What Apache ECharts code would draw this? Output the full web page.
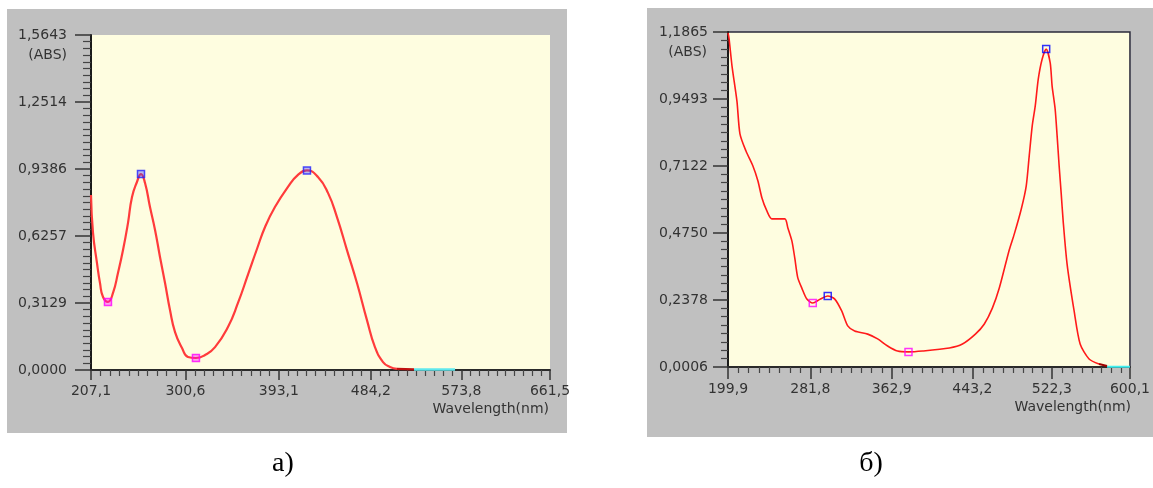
<!DOCTYPE html>
<html>
<head>
<meta charset="utf-8">
<script src="https://cdn.jsdelivr.net/npm/echarts/dist/echarts.min.js"></script>
<style>
html,body{margin:0;padding:0;background:#ffffff;}
#chart{width:1153px;height:488px;}
</style>
</head>
<body>
<div id="chart"></div>
<script>
// ---------- Panel а) ----------
const aXTicks = [207.1, 300.6, 393.1, 484.2, 573.8, 661.5];
const aYTicks = [0, 0.31286, 0.62572, 0.93858, 1.25144, 1.5643];
const aWavelength = [207.1,209.1,213.0,216.0,219.0,223.9,228.9,233.8,238.8,243.7,247.7,252.6,256.6,260.6,265.5,270.5,275.4,280.4,285.3,290.3,297.2,303.1,311.0,320.0,329.9,342.7,352.6,362.5,371.4,379.4,389.2,402.1,412.0,420.9,431.8,441.7,450.6,460.5,470.4,480.3,488.2,496.2,503.1,510.0];
const aAbsorbance = [0.817,0.640,0.500,0.406,0.341,0.318,0.360,0.453,0.560,0.686,0.808,0.878,0.915,0.873,0.761,0.654,0.528,0.406,0.280,0.177,0.103,0.061,0.056,0.070,0.107,0.201,0.313,0.445,0.565,0.668,0.761,0.855,0.911,0.932,0.901,0.827,0.714,0.560,0.406,0.233,0.107,0.037,0.014,0.005];
const aTailWl = [510.0, 526.9];
const aTailAbs = [0.005, 0.003];
const aBaseWl = [526.9, 567.5];
const aBaseAbs = [0.002, 0.002];
const aMinima = [[223.9, 0.318], [311.0, 0.056]];
const aMaxima = [[256.6, 0.915], [420.9, 0.932]];

// ---------- Panel б) ----------
const bXTicks = [199.9, 281.8, 362.9, 443.2, 522.3, 600.1];
const bYTicks = [0.0006, 0.2378, 0.4750, 0.7122, 0.9493, 1.1865];
const bWavelength = [199.9,200.9,203.9,208.8,211.8,217.8,224.7,229.7,233.7,238.6,243.6,256.5,259.5,263.5,266.4,269.4,273.4,278.4,284.3,291.3,299.2,306.2,313.1,319.1,326.0,339.0,348.9,358.8,368.7,379.6,393.5,420.3,433.3,446.2,455.1,463.1,470.0,479.9,484.9,491.9,496.8,499.8,502.8,505.8,508.8,512.7,516.7,520.7,522.6,525.6,527.6,529.6,531.6,533.6,537.5,544.5,550.5,559.4,569.3];
const bAbsorbance = [1.183,1.165,1.066,0.942,0.826,0.765,0.712,0.659,0.599,0.553,0.525,0.525,0.493,0.447,0.386,0.316,0.280,0.241,0.227,0.240,0.252,0.241,0.199,0.146,0.128,0.117,0.100,0.075,0.057,0.054,0.057,0.068,0.082,0.117,0.153,0.209,0.280,0.415,0.471,0.560,0.641,0.748,0.854,0.925,1.020,1.091,1.126,1.077,0.995,0.914,0.818,0.712,0.617,0.517,0.365,0.199,0.082,0.029,0.011];
const bTailWl = [569.3, 577.3];
const bTailAbs = [0.011, 0.004];
const bBaseWl = [577.3, 600.1];
const bBaseAbs = [0.0015, 0.0015];
const bMinima = [[284.3, 0.227], [379.6, 0.054]];
const bMaxima = [[299.2, 0.252], [516.7, 1.126]];

// ---------- helpers ----------
function pairs(xs, ys){ return xs.map((x,i)=>[x, ys[i]]); }
function minorValues(ticks, n){
  const out = [];
  for (let i=0;i<ticks.length-1;i++){
    for (let k=1;k<n;k++){ out.push(ticks[i] + (ticks[i+1]-ticks[i])*k/n); }
  }
  return out;
}
const fmt1 = v => v.toFixed(1).replace('.', ',');
const fmt4 = v => v.toFixed(4).replace('.', ',');
const FONT = 'DejaVu Sans';
const TXT = {color:'#333333', fontFamily:FONT, fontSize:14};

function majorX(grid, ticks, tickLen, margin){
  return {type:'value', gridIndex:grid, position:'bottom', min:ticks[0], max:ticks[ticks.length-1],
    axisLine:{show:true, onZero:false, lineStyle:{color:'#2a2a2a', width:2}},
    axisTick:{show:true, customValues:ticks, length:tickLen, lineStyle:{color:'#333', width:1.5}},
    axisLabel:Object.assign({show:true, customValues:ticks, margin:margin, formatter:fmt1}, TXT),
    splitLine:{show:false}};
}
function minorX(grid, ticks, n, len){
  return {type:'value', gridIndex:grid, position:'bottom', min:ticks[0], max:ticks[ticks.length-1],
    axisLine:{show:false},
    axisTick:{show:true, customValues:minorValues(ticks,n), length:len, lineStyle:{color:'#444', width:1.2}},
    axisLabel:{show:false}, splitLine:{show:false}};
}
function majorY(grid, ticks, tickLen, margin){
  return {type:'value', gridIndex:grid, position:'left', min:ticks[0], max:ticks[ticks.length-1],
    axisLine:{show:true, onZero:false, lineStyle:{color:'#1a1a1a', width:2}},
    axisTick:{show:true, customValues:ticks, length:tickLen, lineStyle:{color:'#333', width:1.5}},
    axisLabel:Object.assign({show:true, customValues:ticks, margin:margin, formatter:fmt4}, TXT),
    splitLine:{show:false}};
}
function minorY(grid, ticks, n, len){
  return {type:'value', gridIndex:grid, position:'left', min:ticks[0], max:ticks[ticks.length-1],
    axisLine:{show:false},
    axisTick:{show:true, customValues:minorValues(ticks,n), length:len, lineStyle:{color:'#444', width:1.2}},
    axisLabel:{show:false}, splitLine:{show:false}};
}
function markerSeries(xi, yi, data, border, fill){
  return {type:'scatter', xAxisIndex:xi, yAxisIndex:yi, data:data, symbol:'rect', symbolSize:7, z:5,
    itemStyle:{color:fill, borderColor:border, borderWidth:1.5}, silent:true};
}

const PLOT_BG = '#fefde0';
const GRAY = '#c0c0c0';
const gfont = '14px "DejaVu Sans"';

const option = {
  animation:false,
  backgroundColor:'#ffffff',
  graphic:[
    {type:'rect', z:-10, shape:{x:7, y:9, width:560, height:424}, style:{fill:GRAY}},
    {type:'rect', z:-10, shape:{x:647, y:8, width:506, height:429}, style:{fill:GRAY}},
    {type:'text', z:10, x:67, y:55, style:{text:'(ABS)', align:'right', verticalAlign:'middle', fill:'#333', font:gfont}},
    {type:'text', z:10, x:707, y:52, style:{text:'(ABS)', align:'right', verticalAlign:'middle', fill:'#333', font:gfont}},
    {type:'text', z:10, x:549, y:409, style:{text:'Wavelength(nm)', align:'right', verticalAlign:'middle', fill:'#333', font:gfont}},
    {type:'text', z:10, x:1131, y:407, style:{text:'Wavelength(nm)', align:'right', verticalAlign:'middle', fill:'#333', font:gfont}},
    {type:'text', z:10, x:283, y:464, style:{text:'а)', align:'center', verticalAlign:'middle', fill:'#000', font:'28px "Liberation Serif"'}},
    {type:'text', z:10, x:871, y:464, style:{text:'б)', align:'center', verticalAlign:'middle', fill:'#000', font:'28px "Liberation Serif"'}}
  ],
  grid:[
    {left:91, top:35, width:459, height:335, show:true, backgroundColor:PLOT_BG, borderWidth:0},
    {left:91, top:35, width:459, height:335, show:false},
    {left:728, top:32, width:403, height:335, show:true, backgroundColor:PLOT_BG, borderColor:'#2a2a3a', borderWidth:1.5},
    {left:728, top:32, width:403, height:335, show:false}
  ],
  xAxis:[
    majorX(0, aXTicks, 10, 14),
    minorX(1, aXTicks, 10, 6),
    majorX(2, bXTicks, 12, 15),
    minorX(3, bXTicks, 8, 6)
  ],
  yAxis:[
    majorY(0, aYTicks, 16, 24),
    minorY(1, aYTicks, 10, 8),
    majorY(2, bYTicks, 15, 20),
    minorY(3, bYTicks, 8, 7)
  ],
  series:[
    {type:'line', xAxisIndex:0, yAxisIndex:0, data:pairs(aWavelength, aAbsorbance), smooth:0.5, showSymbol:false,
      lineStyle:{color:'#ff3b3b', width:2.2}, silent:true},
    {type:'line', xAxisIndex:0, yAxisIndex:0, data:pairs(aTailWl, aTailAbs), showSymbol:false,
      lineStyle:{color:'#c01010', width:2.2}, silent:true},
    {type:'line', xAxisIndex:0, yAxisIndex:0, data:pairs(aBaseWl, aBaseAbs), showSymbol:false,
      lineStyle:{color:'#5fe8ee', width:2.5}, silent:true},
    markerSeries(0, 0, aMinima, '#ff00ff', 'rgba(255,0,255,0.45)'),
    markerSeries(0, 0, aMaxima, '#2020ff', 'rgba(60,60,255,0.45)'),

    {type:'line', xAxisIndex:2, yAxisIndex:2, data:pairs(bWavelength, bAbsorbance), smooth:0.25, showSymbol:false,
      lineStyle:{color:'#ff1a1a', width:1.6}, silent:true},
    {type:'line', xAxisIndex:2, yAxisIndex:2, data:pairs(bTailWl, bTailAbs), showSymbol:false,
      lineStyle:{color:'#a00000', width:2}, silent:true},
    {type:'line', xAxisIndex:2, yAxisIndex:2, data:pairs(bBaseWl, bBaseAbs), showSymbol:false,
      lineStyle:{color:'#40f0f0', width:2}, silent:true},
    markerSeries(2, 2, bMinima, '#ff00ff', 'rgba(255,255,255,0)'),
    markerSeries(2, 2, bMaxima, '#0000ff', 'rgba(255,255,255,0)')
  ]
};

const chart = echarts.init(document.getElementById('chart'), null, {renderer:'canvas'});
chart.setOption(option);
</script>
</body>
</html>
